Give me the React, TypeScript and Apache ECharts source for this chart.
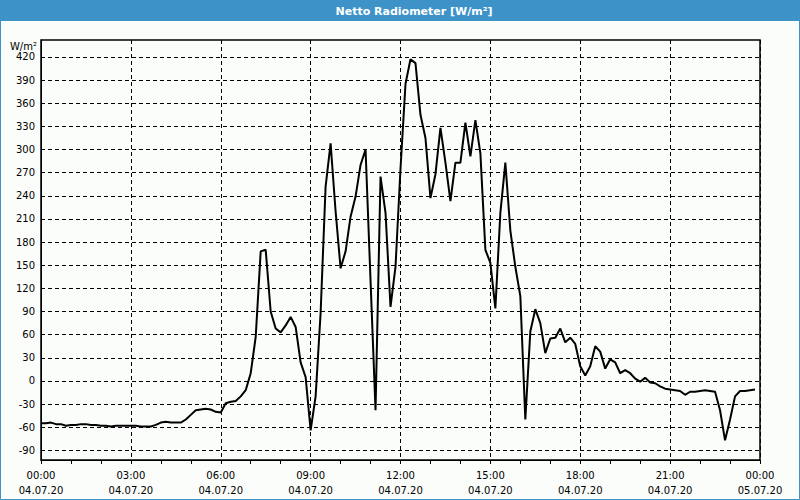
import React, { useEffect, useRef } from "react";
import * as echarts from "echarts";

const title = "Netto Radiometer [W/m²]";
const unit = "W/m²";
const stepMinutes = 10;
const values: number[] = [
  -55, -55, -54, -56, -56, -58, -57, -57, -56, -56,
  -57, -57, -58, -58, -59, -58, -58, -58, -58, -58,
  -59, -59, -59, -57, -54, -53, -54, -54, -54, -50,
  -44, -38, -37, -36, -37, -40, -41, -29, -27, -26,
  -20, -12, 10, 57, 168, 170, 90, 68, 63, 72,
  83, 70, 24, 5, -64, -20, 88, 252, 308, 220,
  146, 168, 213, 239, 280, 300, 130, -38, 265, 218,
  96, 148, 275, 385, 417, 412, 345, 315, 237, 268,
  328, 283, 233, 283, 283, 335, 291, 338, 295, 170,
  153, 94, 218, 283, 195, 148, 110, -50, 64, 93,
  75, 36, 55, 56, 68, 50, 56, 48, 19, 7,
  19, 45, 38, 16, 28, 24, 10, 14, 10, 3,
  -1, 4, -2, -3, -7, -10, -11, -12, -13, -18,
  -14, -14, -13, -12, -13, -14, -38, -77, -50, -20,
  -13, -13, -12, -11,
];
const yTicks = [-90, -60, -30, 0, 30, 60, 90, 120, 150, 180, 210, 240, 270, 300, 330, 360, 390, 420];
const xTickHours = [0, 3, 6, 9, 12, 15, 18, 21, 24];
const dayLabels = ["04.07.20", "05.07.20"];

const FONT = "'DejaVu Sans', sans-serif";

export default function App() {
  const ref = useRef<HTMLDivElement>(null);
  useEffect(() => {
    if (!ref.current) return;
    const chart = echarts.init(ref.current, undefined, { renderer: "svg" });
    const data = values.map((v, i) => [i * stepMinutes, v]);
    const fmtX = (val: number) => {
      const h = Math.round(val / 60);
      if (!xTickHours.includes(h)) return "";
      const hh = h % 24;
      const day = h >= 24 ? dayLabels[1] : dayLabels[0];
      return (hh < 10 ? "0" : "") + hh + ":00\n" + day;
    };
    chart.setOption({
      animation: false,
      backgroundColor: "#fbfdfb",
      grid: { left: 41, right: 40, top: 40, bottom: 40 },
      xAxis: {
        type: "value",
        min: 0,
        max: 1440,
        interval: 180,
        axisLine: { show: true, onZero: false, lineStyle: { color: "#000", width: 1 } },
        axisTick: { show: true, length: 4, lineStyle: { color: "#000" } },
        minorTick: { show: true, splitNumber: 3, length: 4, lineStyle: { color: "#000" } },
        splitLine: { show: true, lineStyle: { color: "#000", type: [4, 3], width: 1 } },
        axisLabel: {
          formatter: fmtX,
          color: "#000",
          fontFamily: FONT,
          fontSize: 10,
          lineHeight: 15,
          margin: 8,
        },
      },
      yAxis: {
        type: "value",
        min: -102.5,
        max: 442,
        axisLine: { show: true, lineStyle: { color: "#000", width: 1 } },
        axisTick: { show: false, customValues: yTicks },
        splitLine: { show: true, lineStyle: { color: "#000", type: [4, 3], width: 1 } },
        axisLabel: {
          customValues: yTicks,
          color: "#000",
          fontFamily: FONT,
          fontSize: 10,
          margin: 6,
        },
      },
      graphic: [
        { type: "rect", shape: { x: 0, y: 0, width: 800, height: 21 }, style: { fill: "#3d92c8" }, z: 10 },
        {
          type: "text",
          x: 414,
          y: 11,
          style: { text: title, fill: "#fff", font: "bold 11px 'DejaVu Sans', sans-serif", textAlign: "center", textVerticalAlign: "middle" },
          z: 11,
        },
        { type: "rect", shape: { x: 0.5, y: 0.5, width: 799, height: 499 }, style: { fill: "none", stroke: "#3d92c8", lineWidth: 1 }, z: 10 },
        { type: "rect", shape: { x: 41, y: 40, width: 719, height: 420 }, style: { fill: "none", stroke: "#000", lineWidth: 1.5 }, z: 5 },
        {
          type: "text",
          x: 37,
          y: 46,
          style: { text: unit, fill: "#000", font: "10px 'DejaVu Sans', sans-serif", textAlign: "right", textVerticalAlign: "middle" },
          z: 11,
        },
      ],
      series: [
        {
          type: "line",
          data,
          showSymbol: false,
          symbol: "none",
          lineStyle: { color: "#000", width: 2 },
          emphasis: { disabled: true },
        },
      ],
    });
    return () => chart.dispose();
  }, []);
  return <div ref={ref} style={{ position: "fixed", left: 0, top: 0, width: 800, height: 500 }} />;
}
